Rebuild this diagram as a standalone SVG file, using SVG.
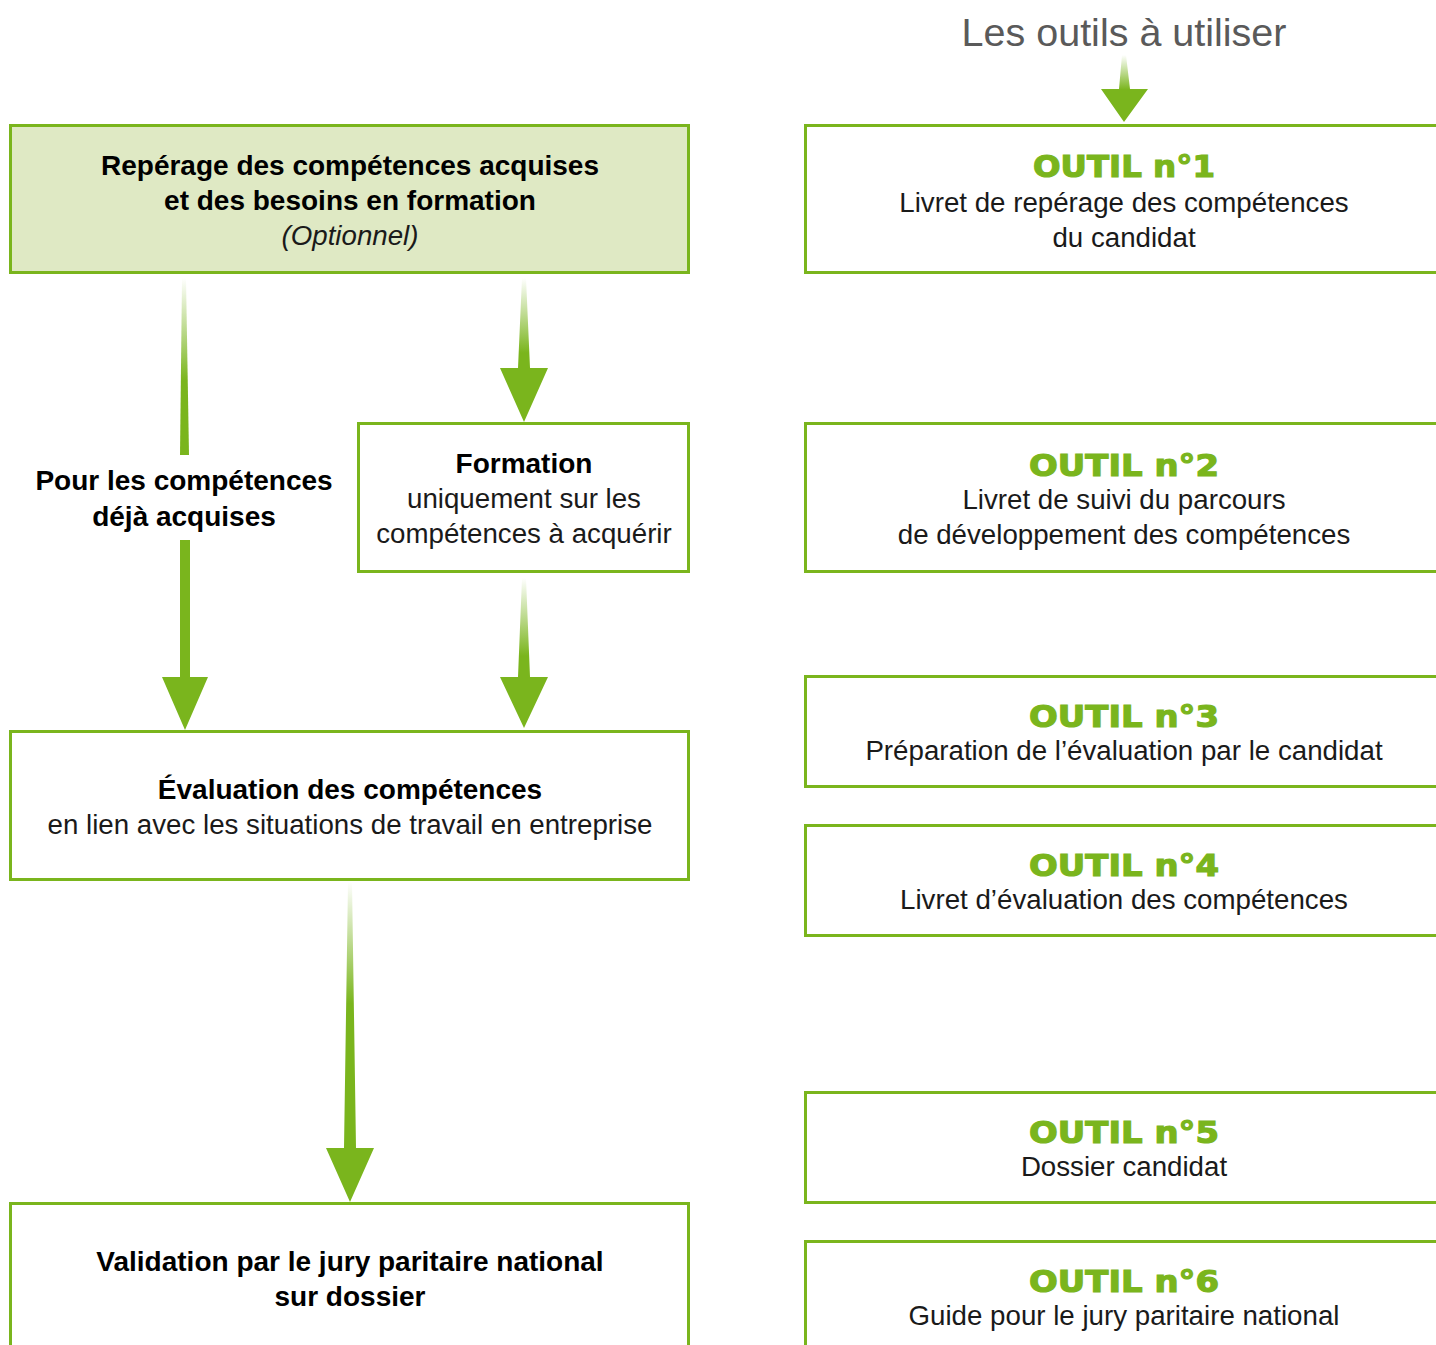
<svg xmlns="http://www.w3.org/2000/svg" width="1436" height="1345" viewBox="0 0 1436 1345">
<style>
.box{fill:#fff;stroke:#7ab51d;stroke-width:3}
.box1{fill:#dfe9c4;stroke:#7ab51d;stroke-width:3}
.t{font-family:"Liberation Sans",Arial,sans-serif;font-size:27.7px;fill:#1a1a1a;text-anchor:middle}
.b{font-weight:bold;fill:#000;font-size:28px}
.i{font-style:italic}
.o{font-family:"DejaVu Sans",sans-serif;font-weight:bold;font-size:30px;fill:#7ab51d;stroke:#7ab51d;stroke-width:1.2;text-anchor:middle}
.title{font-family:"Liberation Sans",Arial,sans-serif;font-size:39.5px;fill:#5a5a5a;text-anchor:middle}
.g{fill:#7ab51d}
</style>
<defs>
<linearGradient id="gA" x1="0" y1="0" x2="0" y2="1"><stop offset="0" stop-color="#7ab51d" stop-opacity="0"/><stop offset="0.58" stop-color="#7ab51d"/><stop offset="1" stop-color="#7ab51d"/></linearGradient>
<linearGradient id="gB" x1="0" y1="0" x2="0" y2="1"><stop offset="0" stop-color="#7ab51d" stop-opacity="0"/><stop offset="0.52" stop-color="#7ab51d"/><stop offset="1" stop-color="#7ab51d"/></linearGradient>
<linearGradient id="gD" x1="0" y1="0" x2="0" y2="1"><stop offset="0" stop-color="#7ab51d" stop-opacity="0"/><stop offset="0.38" stop-color="#7ab51d"/><stop offset="1" stop-color="#7ab51d"/></linearGradient>
</defs>

<text class="title" x="1124" y="46">Les outils à utiliser</text>

<g id="connectors">
<path fill="url(#gB)" d="M1122,55 L1126,55 L1130,89 L1148,89 L1124,122 L1101,89 L1119,89 Z"/>
<path fill="url(#gA)" d="M182,278 L186,278 L189,455 L180,455 Z"/>
<path class="g" d="M180,540 L190,540 L190,677 L208,677 L185,730 L162,677 L180,677 Z"/>
<path fill="url(#gB)" d="M522,278 L526,278 L530,368 L548,368 L524,422 L500,368 L518,368 Z"/>
<path fill="url(#gB)" d="M522,578 L526,578 L530,677 L548,677 L524,728 L500,677 L518,677 Z"/>
<path fill="url(#gD)" d="M348,882 L352,882 L356,1148 L374,1148 L350,1202 L326,1148 L344,1148 Z"/>
</g>

<g id="n-reperage">
<rect class="box1" x="10.5" y="125.5" width="678" height="147"/>
<text class="t b" x="350" y="175">Repérage des compétences acquises</text>
<text class="t b" x="350" y="210">et des besoins en formation</text>
<text class="t i" x="350" y="245">(Optionnel)</text>
</g>

<g id="n-acquises">
<text class="t b" x="184" y="490">Pour les compétences</text>
<text class="t b" x="184" y="526">déjà acquises</text>
</g>

<g id="n-formation">
<rect class="box" x="358.5" y="423.5" width="330" height="148"/>
<text class="t b" x="524" y="473">Formation</text>
<text class="t" x="524" y="508">uniquement sur les</text>
<text class="t" x="524" y="543">compétences à acquérir</text>
</g>

<g id="n-evaluation">
<rect class="box" x="10.5" y="731.5" width="678" height="148"/>
<text class="t b" x="350" y="799">Évaluation des compétences</text>
<text class="t" x="350" y="834">en lien avec les situations de travail en entreprise</text>
</g>

<g id="n-validation">
<rect class="box" x="10.5" y="1203.5" width="678" height="160"/>
<text class="t b" x="350" y="1271">Validation par le jury paritaire national</text>
<text class="t b" x="350" y="1306">sur dossier</text>
</g>

<g id="n-outil1">
<rect class="box" x="805.5" y="125.5" width="660" height="147"/>
<text class="o" x="1124" y="177" textLength="182" lengthAdjust="spacingAndGlyphs">OUTIL n°1</text>
<text class="t" x="1124" y="212">Livret de repérage des compétences</text>
<text class="t" x="1124" y="247">du candidat</text>
</g>

<g id="n-outil2">
<rect class="box" x="805.5" y="423.5" width="660" height="148"/>
<text class="o" x="1124" y="476" textLength="190" lengthAdjust="spacingAndGlyphs">OUTIL n°2</text>
<text class="t" x="1124" y="509">Livret de suivi du parcours</text>
<text class="t" x="1124" y="544">de développement des compétences</text>
</g>

<g id="n-outil3">
<rect class="box" x="805.5" y="676.5" width="660" height="110"/>
<text class="o" x="1124" y="727" textLength="190" lengthAdjust="spacingAndGlyphs">OUTIL n°3</text>
<text class="t" x="1124" y="760">Préparation de l’évaluation par le candidat</text>
</g>

<g id="n-outil4">
<rect class="box" x="805.5" y="825.5" width="660" height="110"/>
<text class="o" x="1124" y="876" textLength="190" lengthAdjust="spacingAndGlyphs">OUTIL n°4</text>
<text class="t" x="1124" y="909">Livret d’évaluation des compétences</text>
</g>

<g id="n-outil5">
<rect class="box" x="805.5" y="1092.5" width="660" height="110"/>
<text class="o" x="1124" y="1143" textLength="190" lengthAdjust="spacingAndGlyphs">OUTIL n°5</text>
<text class="t" x="1124" y="1176">Dossier candidat</text>
</g>

<g id="n-outil6">
<rect class="box" x="805.5" y="1241.5" width="660" height="130"/>
<text class="o" x="1124" y="1292" textLength="190" lengthAdjust="spacingAndGlyphs">OUTIL n°6</text>
<text class="t" x="1124" y="1325">Guide pour le jury paritaire national</text>
</g>
</svg>
